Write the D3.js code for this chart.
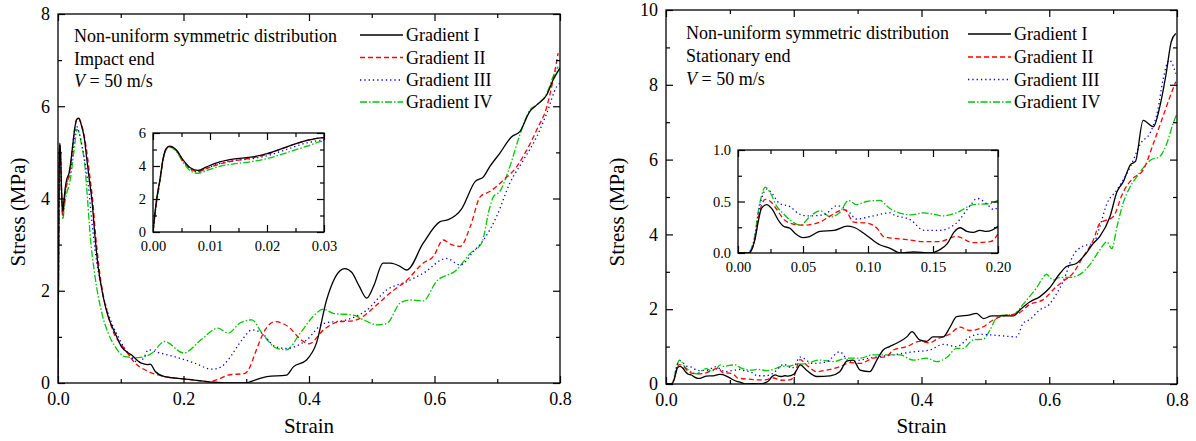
<!DOCTYPE html>
<html><head><meta charset="utf-8">
<script src="https://cdn.jsdelivr.net/npm/d3@7"></script>
<style>
body{margin:0;background:#fff}
svg{display:block}
text{font-family:"Liberation Serif","Times New Roman",serif;fill:#000}
</style>
</head><body>
<svg id="c" width="1196" height="441"></svg>
<script>
// ---------------- DATA ----------------
const seriesNames = ["Gradient I", "Gradient II", "Gradient III", "Gradient IV"];

// Left panel: impact end  [strain, stress MPa]
const impactI = [[0,0],[0.0006,1.9],[0.0012,3.15],[0.0018,4.5],[0.0023,5.05],[0.0029,5.2],[0.0041,4.97],[0.0053,4.36],[0.0067,3.86],[0.0079,3.73],[0.0094,3.95],[0.0117,4.25],[0.014,4.42],[0.0175,4.55],[0.02,4.75],[0.0234,5.15],[0.027,5.55],[0.03,5.72],[0.033,5.74],[0.037,5.6],[0.042,5.3],[0.046,4.84],[0.05,4.4],[0.054,3.97],[0.059,3.17],[0.064,2.52],[0.072,1.87],[0.08,1.44],[0.091,1.08],[0.101,0.79],[0.117,0.61],[0.133,0.43],[0.143,0.4],[0.147,0.41],[0.155,0.25],[0.17,0.14],[0.208,0.08],[0.245,0.02],[0.27,0.0],[0.298,0],[0.315,0.07],[0.333,0.14],[0.364,0.17],[0.375,0.35],[0.396,0.5],[0.412,0.87],[0.428,1.8],[0.449,2.43],[0.457,2.48],[0.468,2.4],[0.48,2.1],[0.492,1.84],[0.503,2.1],[0.518,2.6],[0.53,2.6],[0.545,2.53],[0.556,2.45],[0.582,3.03],[0.609,3.5],[0.622,3.54],[0.643,3.77],[0.665,4.37],[0.678,4.47],[0.688,4.69],[0.704,4.98],[0.723,5.34],[0.736,5.45],[0.752,5.89],[0.763,6.03],[0.779,6.25],[0.789,6.57],[0.8,6.83]];
const impactII = [[0,0],[0.0006,1.8],[0.0012,3.1],[0.0018,4.45],[0.0023,5.0],[0.0029,5.18],[0.0041,4.95],[0.0053,4.3],[0.0067,3.8],[0.0079,3.66],[0.0094,3.85],[0.0117,4.12],[0.014,4.3],[0.0175,4.5],[0.02,4.72],[0.0234,5.15],[0.027,5.55],[0.03,5.72],[0.033,5.74],[0.037,5.62],[0.042,5.35],[0.047,4.9],[0.051,4.45],[0.055,4.0],[0.06,3.2],[0.065,2.55],[0.072,1.9],[0.08,1.45],[0.09,1.05],[0.1,0.85],[0.107,0.72],[0.123,0.43],[0.144,0.25],[0.17,0.14],[0.208,0.08],[0.24,0.03],[0.255,0.08],[0.271,0.17],[0.298,0.21],[0.306,0.35],[0.314,0.64],[0.33,1.15],[0.346,1.33],[0.367,1.22],[0.388,0.93],[0.4,0.85],[0.423,1.15],[0.439,1.29],[0.449,1.33],[0.471,1.35],[0.486,1.44],[0.502,1.62],[0.529,1.95],[0.556,2.23],[0.582,2.6],[0.598,2.74],[0.614,3.1],[0.627,3.0],[0.641,2.96],[0.657,3.39],[0.673,4.04],[0.688,4.15],[0.71,4.4],[0.731,4.69],[0.747,5.05],[0.763,5.49],[0.779,5.99],[0.789,6.57],[0.797,7.15]];
const impactIII = [[0,0],[0.0006,1.85],[0.0012,3.1],[0.0018,4.45],[0.0023,5.0],[0.0029,5.18],[0.0041,4.93],[0.0053,4.3],[0.0067,3.78],[0.0079,3.64],[0.0094,3.85],[0.0117,4.15],[0.014,4.32],[0.0175,4.45],[0.02,4.62],[0.0234,5.0],[0.027,5.4],[0.03,5.56],[0.032,5.5],[0.036,5.3],[0.041,4.95],[0.048,4.33],[0.054,3.5],[0.059,2.89],[0.07,2.02],[0.08,1.51],[0.096,1.0],[0.112,0.64],[0.128,0.45],[0.137,0.55],[0.144,0.72],[0.16,0.66],[0.186,0.57],[0.218,0.43],[0.245,0.3],[0.26,0.35],[0.271,0.5],[0.293,0.93],[0.309,1.15],[0.325,1.08],[0.346,0.79],[0.364,0.75],[0.38,0.8],[0.396,0.93],[0.423,1.29],[0.46,1.37],[0.492,1.58],[0.524,2.02],[0.556,2.2],[0.582,2.38],[0.619,2.7],[0.641,2.56],[0.662,2.85],[0.678,3.1],[0.699,3.61],[0.72,4.33],[0.742,4.84],[0.763,5.34],[0.779,5.85],[0.795,6.43],[0.8,6.5]];
const impactIV = [[0,0],[0.0006,1.7],[0.0012,3.0],[0.0018,4.4],[0.0023,4.98],[0.0029,5.15],[0.0041,4.88],[0.0053,4.2],[0.0067,3.68],[0.0079,3.55],[0.0094,3.72],[0.0117,3.98],[0.014,4.12],[0.0175,4.28],[0.02,4.45],[0.0234,4.8],[0.027,5.2],[0.03,5.5],[0.033,5.45],[0.037,5.2],[0.043,4.69],[0.047,4.0],[0.051,3.25],[0.059,2.31],[0.07,1.51],[0.08,1.08],[0.091,0.79],[0.107,0.57],[0.128,0.55],[0.149,0.64],[0.17,0.9],[0.2,0.65],[0.229,0.95],[0.255,1.19],[0.271,1.08],[0.29,1.3],[0.309,1.37],[0.325,1.08],[0.349,0.75],[0.364,0.72],[0.386,1.08],[0.407,1.45],[0.423,1.6],[0.439,1.51],[0.471,1.47],[0.49,1.35],[0.508,1.26],[0.524,1.29],[0.545,1.73],[0.561,1.8],[0.582,1.78],[0.603,2.2],[0.635,2.45],[0.657,2.81],[0.675,3.03],[0.688,3.8],[0.694,4.04],[0.704,4.15],[0.72,4.69],[0.736,5.38],[0.752,5.92],[0.763,6.03],[0.779,6.28],[0.789,6.64],[0.797,6.86]];

// Right panel: stationary end  [strain, stress MPa]
const stationaryI = [[0,0],[0.008,0],[0.0095,0.01],[0.013,0.13],[0.0158,0.32],[0.018,0.43],[0.022,0.47],[0.026,0.43],[0.031,0.32],[0.035,0.26],[0.04,0.24],[0.044,0.19],[0.05,0.15],[0.055,0.16],[0.063,0.21],[0.074,0.22],[0.084,0.26],[0.089,0.25],[0.099,0.17],[0.109,0.08],[0.117,0.045],[0.125,0.0],[0.135,0.01],[0.148,0.0],[0.155,0.03],[0.161,0.09],[0.166,0.2],[0.171,0.245],[0.176,0.21],[0.181,0.2],[0.186,0.22],[0.191,0.21],[0.2,0.26],[0.2045,0.37],[0.21,0.51],[0.22,0.37],[0.236,0.2],[0.257,0.22],[0.272,0.33],[0.283,0.61],[0.293,0.64],[0.304,0.37],[0.319,0.33],[0.33,0.64],[0.34,0.91],[0.35,1.0],[0.361,1.09],[0.377,1.26],[0.385,1.4],[0.397,1.18],[0.408,1.14],[0.418,1.26],[0.434,1.26],[0.444,1.5],[0.455,1.8],[0.476,1.85],[0.486,1.89],[0.497,1.75],[0.51,1.82],[0.528,1.82],[0.544,1.82],[0.554,1.98],[0.57,2.2],[0.585,2.33],[0.6,2.56],[0.617,2.96],[0.627,3.14],[0.643,3.23],[0.658,3.5],[0.669,3.76],[0.679,3.94],[0.695,4.47],[0.706,5.14],[0.716,5.41],[0.727,5.86],[0.735,5.95],[0.747,7.05],[0.763,6.88],[0.773,7.41],[0.783,8.3],[0.791,9.15],[0.798,9.37]];
const stationaryII = [[0,0],[0.008,0],[0.0095,0.01],[0.013,0.14],[0.0158,0.35],[0.018,0.46],[0.021,0.52],[0.025,0.5],[0.03,0.42],[0.035,0.33],[0.04,0.29],[0.05,0.27],[0.063,0.3],[0.071,0.36],[0.078,0.41],[0.082,0.42],[0.089,0.3],[0.099,0.29],[0.107,0.24],[0.112,0.16],[0.13,0.13],[0.143,0.11],[0.155,0.11],[0.168,0.16],[0.181,0.1],[0.194,0.11],[0.2,0.19],[0.21,0.65],[0.22,0.51],[0.236,0.33],[0.251,0.37],[0.272,0.46],[0.288,0.57],[0.304,0.55],[0.324,0.69],[0.345,0.73],[0.356,0.91],[0.377,1.0],[0.397,1.14],[0.413,1.1],[0.424,1.2],[0.444,1.33],[0.46,1.52],[0.476,1.43],[0.497,1.53],[0.512,1.71],[0.533,1.84],[0.549,1.87],[0.57,2.13],[0.59,2.25],[0.611,2.6],[0.622,2.75],[0.637,2.96],[0.653,3.4],[0.669,3.85],[0.679,4.29],[0.7,4.47],[0.716,5.14],[0.731,5.5],[0.747,5.72],[0.763,6.43],[0.778,7.15],[0.789,7.68],[0.798,8.08]];
const stationaryIII = [[0,0],[0.008,0],[0.0095,0.02],[0.013,0.16],[0.0158,0.4],[0.018,0.52],[0.022,0.62],[0.026,0.58],[0.032,0.48],[0.04,0.45],[0.047,0.38],[0.053,0.36],[0.066,0.37],[0.076,0.46],[0.086,0.39],[0.091,0.33],[0.104,0.36],[0.117,0.39],[0.12,0.37],[0.133,0.32],[0.143,0.22],[0.155,0.22],[0.168,0.29],[0.178,0.45],[0.184,0.53],[0.191,0.48],[0.197,0.42],[0.2,0.45],[0.21,0.72],[0.23,0.55],[0.251,0.59],[0.272,0.86],[0.288,0.59],[0.304,0.64],[0.324,0.71],[0.356,0.78],[0.387,0.86],[0.413,0.91],[0.434,1.06],[0.455,1.0],[0.476,1.26],[0.491,1.33],[0.518,1.3],[0.549,1.26],[0.559,1.62],[0.57,1.73],[0.585,1.98],[0.6,2.13],[0.611,2.4],[0.622,2.75],[0.637,3.42],[0.653,3.69],[0.669,3.76],[0.679,4.2],[0.69,4.81],[0.706,5.19],[0.727,5.81],[0.743,6.43],[0.759,6.75],[0.77,7.33],[0.778,8.13],[0.788,8.66],[0.798,8.3]];
const stationaryIV = [[0,0],[0.008,0],[0.0095,0.02],[0.013,0.17],[0.0158,0.42],[0.018,0.55],[0.021,0.64],[0.025,0.58],[0.03,0.45],[0.035,0.38],[0.04,0.32],[0.048,0.27],[0.055,0.35],[0.063,0.41],[0.071,0.35],[0.078,0.39],[0.085,0.51],[0.091,0.47],[0.099,0.5],[0.109,0.51],[0.117,0.43],[0.133,0.37],[0.143,0.39],[0.158,0.36],[0.168,0.39],[0.181,0.47],[0.194,0.48],[0.2,0.51],[0.22,0.55],[0.241,0.64],[0.262,0.6],[0.283,0.69],[0.304,0.69],[0.324,0.78],[0.345,0.78],[0.366,0.78],[0.387,0.64],[0.408,0.69],[0.424,0.6],[0.439,0.7],[0.455,0.95],[0.465,0.95],[0.481,1.18],[0.497,1.2],[0.507,1.44],[0.518,1.78],[0.528,1.84],[0.544,1.86],[0.559,2.13],[0.58,2.57],[0.596,2.93],[0.606,2.78],[0.617,2.85],[0.632,2.85],[0.648,2.93],[0.664,3.2],[0.679,3.58],[0.69,3.8],[0.698,3.62],[0.706,4.2],[0.715,4.8],[0.726,5.25],[0.737,5.54],[0.759,5.99],[0.773,6.08],[0.784,6.43],[0.794,6.97],[0.8,7.23]];

// Tick values
const mainStrainTicks = [0, 0.2, 0.4, 0.6, 0.8];
const mainStrainMinor = [0.1, 0.3, 0.5, 0.7];
const leftStressTicks = [0, 2, 4, 6, 8];
const leftStressMinor = [1, 3, 5, 7];
const rightStressTicks = [0, 2, 4, 6, 8, 10];
const rightStressMinor = [1, 3, 5, 7, 9];
const leftInsetStrainTicks = [0, 0.01, 0.02, 0.03];
const leftInsetStrainMinor = [0.005, 0.015, 0.025];
const leftInsetStressTicks = [0, 2, 4, 6];
const leftInsetStressMinor = [1, 3, 5];
const rightInsetStrainTicks = [0, 0.05, 0.10, 0.15, 0.20];
const rightInsetStrainMinor = [0.025, 0.075, 0.125, 0.175];
const rightInsetStressTicks = [0, 0.5, 1.0];
const rightInsetStressMinor = [0.25, 0.75];

const leftNotes = ["Non-uniform symmetric distribution", "Impact end", "= 50 m/s"];
const rightNotes = ["Non-uniform symmetric distribution", "Stationary end", "= 50 m/s"];
const xTitle = "Strain";
const yTitle = "Stress (MPa)";

// ---------------- STYLE ----------------
const colors = ["#000000", "#ff0000", "#0000ff", "#00c800"];
const dashes = [null, "5,3", "1.3,3", "7,2,1.5,2"];
const FONT = 18;

const svg = d3.select("#c");

function axesBox(g, x, y, o) {
  const [bx0, bx1] = x.range();
  const [by1, by0] = y.range();
  const add = (axis, tr) => {
    const a = g.append("g").attr("transform", tr).call(axis);
    a.select(".domain").remove();
    a.selectAll("line").attr("stroke", "#000").attr("stroke-width", 1.2);
    a.attr("font-family", null).attr("font-size", o.fs);
    a.selectAll("text").style("font-family", '"Liberation Serif",serif').attr("fill", "#000");
    return a;
  };
  const mk = (fn, sc, vals, len, fmt, pad) =>
    fn(sc).tickValues(vals).tickSizeInner(-len).tickSizeOuter(0).tickPadding(pad).tickFormat(fmt);
  add(mk(d3.axisBottom, x, o.xMajor, o.maj, d3.format(o.xf), o.xpad), `translate(0,${by1})`);
  add(mk(d3.axisBottom, x, o.xMinor, o.min, () => "", 0), `translate(0,${by1})`);
  add(mk(d3.axisTop, x, o.xMajor, o.maj, () => "", 0), `translate(0,${by0})`);
  add(mk(d3.axisTop, x, o.xMinor, o.min, () => "", 0), `translate(0,${by0})`);
  add(mk(d3.axisLeft, y, o.yMajor, o.maj, d3.format(o.yf), o.ypad), `translate(${bx0},0)`);
  add(mk(d3.axisLeft, y, o.yMinor, o.min, () => "", 0), `translate(${bx0},0)`);
  add(mk(d3.axisRight, y, o.yMajor, o.maj, () => "", 0), `translate(${bx1},0)`);
  add(mk(d3.axisRight, y, o.yMinor, o.min, () => "", 0), `translate(${bx1},0)`);
  g.append("rect").attr("x", bx0).attr("y", by0).attr("width", bx1 - bx0).attr("height", by1 - by0)
    .attr("fill", "none").attr("stroke", "#000").attr("stroke-width", 1.3);
}

function curves(g, x, y, data, clipId) {
  const [bx0, bx1] = x.range();
  const [by1, by0] = y.range();
  svg.append("defs").append("clipPath").attr("id", clipId)
    .append("rect").attr("x", bx0).attr("y", by0 - 1).attr("width", bx1 - bx0).attr("height", by1 - by0 + 1);
  const line = d3.line().x(d => x(d[0])).y(d => y(d[1])).curve(d3.curveMonotoneX);
  const cg = g.append("g").attr("clip-path", `url(#${clipId})`);
  for (let i = data.length - 1; i >= 0; i--) {
    cg.append("path").datum(data[i]).attr("d", line)
      .attr("fill", "none").attr("stroke", colors[i]).attr("stroke-width", 1.3)
      .attr("stroke-dasharray", dashes[i]);
  }
}

function panel(p) {
  const g = svg.append("g");
  const x = d3.scaleLinear().domain([0, 0.8]).range([p.x0, p.x1]);
  const y = d3.scaleLinear().domain(p.yDomain).range([p.y1, p.y0]);
  curves(g, x, y, p.data, p.id + "main");
  axesBox(g, x, y, {xMajor: mainStrainTicks, xMinor: mainStrainMinor, yMajor: p.yMajor, yMinor: p.yMinor,
    xf: ".1f", yf: "d", maj: 7, min: 4, xpad: 9, ypad: 8, fs: FONT});

  const ig = g.append("g");
  const I = p.inset;
  ig.append("rect").attr("x", I.x0).attr("y", I.y0).attr("width", I.x1 - I.x0).attr("height", I.y1 - I.y0).attr("fill", "#fff");
  const ix = d3.scaleLinear().domain(I.xDomain).range([I.x0, I.x1]);
  const iy = d3.scaleLinear().domain(I.yDomain).range([I.y1, I.y0]);
  const cut = I.xDomain[1];
  const idata = p.data.map(s => {
    const k = s.findIndex(d => d[0] > cut);
    return k < 0 ? s : s.slice(0, k + 1);
  });
  curves(ig, ix, iy, idata, p.id + "inset");
  axesBox(ig, ix, iy, {xMajor: I.xMajor, xMinor: I.xMinor, yMajor: I.yMajor, yMinor: I.yMinor,
    xf: ".2f", yf: I.yf, maj: 7, min: 4, xpad: 9, ypad: 7, fs: 14.5});

  const lg = g.append("g");
  seriesNames.forEach((n, i) => {
    const ly = p.legY[i];
    lg.append("line").attr("x1", p.legX0).attr("x2", p.legX1).attr("y1", ly).attr("y2", ly)
      .attr("stroke", colors[i]).attr("stroke-width", 1.3).attr("stroke-dasharray", dashes[i]);
    lg.append("text").attr("x", p.legX1 + 3).attr("y", ly + 6).attr("font-size", FONT).text(n);
  });

  p.notes.forEach((t, i) => {
    const tx = g.append("text").attr("x", p.noteX).attr("y", p.noteY[i]).attr("font-size", FONT);
    if (i === 2) {
      tx.append("tspan").attr("font-style", "italic").text("V");
      tx.append("tspan").text(" " + t);
    } else tx.text(t);
  });

  g.append("text").attr("x", (p.x0 + p.x1) / 2).attr("y", 433).attr("text-anchor", "middle")
    .attr("font-size", 21).text(xTitle);
  g.append("text").attr("transform", `translate(${p.yTitleX},212) rotate(-90)`).attr("text-anchor", "middle")
    .attr("font-size", 21).text(yTitle);
}

panel({
  id: "L", x0: 58, x1: 560, y0: 14, y1: 383, yDomain: [0, 8],
  yMajor: leftStressTicks, yMinor: leftStressMinor,
  data: [impactI, impactII, impactIII, impactIV],
  inset: {x0: 153, x1: 324, y0: 133, y1: 232, xDomain: [0, 0.03], yDomain: [0, 6],
    xMajor: leftInsetStrainTicks, xMinor: leftInsetStrainMinor,
    yMajor: leftInsetStressTicks, yMinor: leftInsetStressMinor, yf: "d"},
  legX0: 360, legX1: 403, legY: [35, 57.5, 80, 102],
  notes: leftNotes, noteX: 74, noteY: [42, 65, 87],
  yTitleX: 25
});

panel({
  id: "R", x0: 666, x1: 1177, y0: 10, y1: 384, yDomain: [0, 10],
  yMajor: rightStressTicks, yMinor: rightStressMinor,
  data: [stationaryI, stationaryII, stationaryIII, stationaryIV],
  inset: {x0: 738, x1: 998, y0: 150, y1: 253, xDomain: [0, 0.2], yDomain: [0, 1],
    xMajor: rightInsetStrainTicks, xMinor: rightInsetStrainMinor,
    yMajor: rightInsetStressTicks, yMinor: rightInsetStressMinor, yf: ".1f"},
  legX0: 968, legX1: 1011, legY: [34, 57, 79.5, 102],
  notes: rightNotes, noteX: 686, noteY: [39, 62, 85],
  yTitleX: 624
});
</script>
</body></html>
